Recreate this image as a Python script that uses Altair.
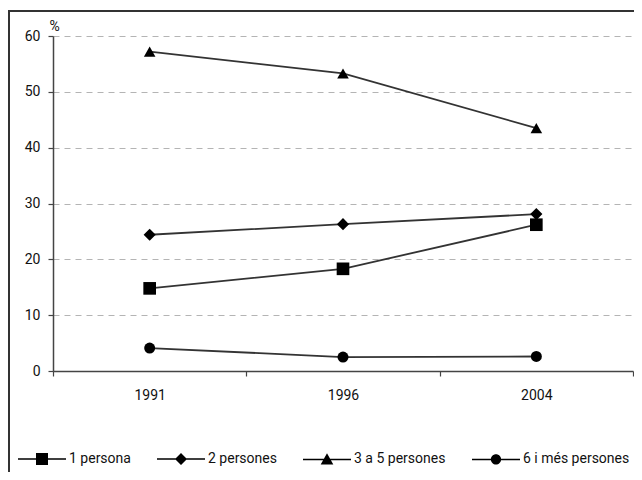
import altair as alt
import pandas as pd

years = ["1991", "1996", "2004"]
series = ["1 persona", "2 persones", "3 a 5 persones", "6 i més persones"]
v_1persona = [14.8, 18.3, 26.2]
v_2persones = [24.4, 26.3, 28.1]
v_3a5persones = [57.2, 53.3, 43.5]
v_6persones = [4.1, 2.5, 2.6]

rows = []
for s, vals in zip(series, [v_1persona, v_2persones, v_3a5persones, v_6persones]):
    for yr, v in zip(years, vals):
        rows.append({"Any": yr, "Serie": s, "Valor": v})
df = pd.DataFrame(rows)

FONT = "Roboto"
FS = 14

x_enc = alt.X(
    "Any:N",
    scale=alt.Scale(type="band", domain=years, paddingInner=0, paddingOuter=0),
    axis=alt.Axis(title=None, labelAngle=0, tickBand="extent", domainColor="#444",
                  domainWidth=1.5, tickColor="#444", tickWidth=1.2, tickSize=5,
                  labelPadding=12, labelFont=FONT, labelFontSize=FS, labelColor="#111",
                  grid=False),
)
y_enc = alt.Y(
    "Valor:Q",
    scale=alt.Scale(domain=[0, 60], nice=False),
    axis=alt.Axis(values=list(range(0, 61, 10)), title="%", titleAngle=0, titleX=-4,
                  titleY=-6, titleAlign="left", titleBaseline="alphabetic", titleFont=FONT,
                  titleFontSize=14, titleFontWeight="normal", titleColor="#111",
                  labelFont=FONT, labelFontSize=FS, labelColor="#111", labelPadding=8,
                  domainColor="#444", domainWidth=1.5, tickColor="#444", tickWidth=1.2,
                  tickSize=5, grid=True, gridDash=[6, 5], gridColor="#b4b4b4", gridWidth=1),
)

base = alt.Chart(df)

lines = base.mark_line(color="#333", strokeWidth=1.8).encode(
    x=x_enc, y=y_enc, detail="Serie:N"
)

points = base.mark_point(filled=True, color="black", opacity=1).encode(
    x=x_enc, y=y_enc,
    shape=alt.Shape("Serie:N", scale=alt.Scale(domain=series,
                    range=["square", "diamond", "triangle-up", "circle"]), legend=None),
    size=alt.Size("Serie:N", scale=alt.Scale(domain=series, range=[160, 121, 150, 100]),
                  legend=None),
)

LINE = "M-4,-0.13L4,-0.13L4,0.13L-4,0.13Z"
legend_paths = [
    LINE + "M-1,-1L1,-1L1,1L-1,1Z",
    LINE + "M0,-1L1,0L0,1L-1,0Z",
    LINE + "M0,-1.05L1.05,0.85L-1.05,0.85Z",
    LINE + "M0.85,0A0.85,0.85,0,1,1,-0.85,0A0.85,0.85,0,1,1,0.85,0Z",
]

legend_layer = base.mark_point(filled=True, color="black", opacity=1,
                               size=144, clip=True).encode(
    x=alt.value(-500), y=alt.value(-500),
    shape=alt.Shape("Serie:N", scale=alt.Scale(domain=series, range=legend_paths),
                    legend=alt.Legend(title=None, orient="none", legendX=-18, legendY=416,
                                      direction="horizontal", labelFont=FONT,
                                      labelFontSize=FS, labelColor="#111", labelOffset=20,
                                      columnPadding=23, symbolSize=144,
                                      symbolFillColor="black", symbolOpacity=1, padding=0,
                                      labelLimit=300)),
)

border = alt.Chart(alt.Data(values=[{}])).mark_rect(
    fill=None, stroke="#333", strokeWidth=2
).encode(x=alt.value(-44), x2=alt.value(700), y=alt.value(-25), y2=alt.value(700))

chart = alt.layer(border, lines, points, legend_layer).resolve_scale(
    shape="independent", size="independent"
).properties(
    width=580, height=335,
    padding={"left": 45, "top": 28, "right": 1, "bottom": 101},
    autosize=alt.AutoSizeParams(type="none"),
).configure_view(stroke=None)

chart.save("out.html", embed_options={"renderer": "svg", "actions": False})
